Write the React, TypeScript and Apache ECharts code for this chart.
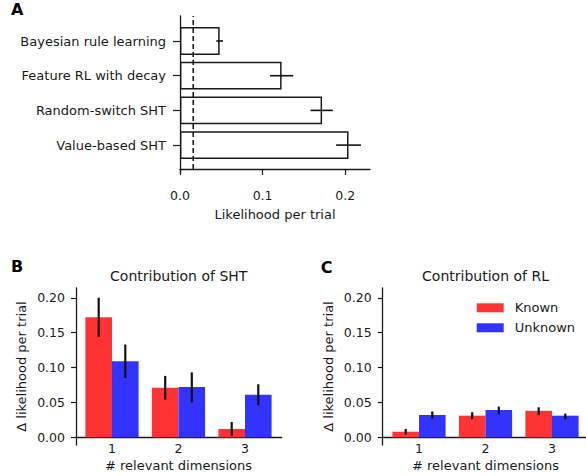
import React, { useEffect, useRef } from 'react';
import * as echarts from 'echarts';

const FONT = 'DejaVu Sans';
const INK = '#1a1a1a';
const RED = '#ff3333';
const BLUE = '#3333ff';

// Panel A
const catsA = ['Bayesian rule learning', 'Feature RL with decay', 'Random-switch SHT', 'Value-based SHT'];
const valsA = [0.048, 0.123, 0.172, 0.204];
const errLoA = [0.044, 0.109, 0.158, 0.189];
const errHiA = [0.052, 0.137, 0.185, 0.219];
const chanceA = 0.016;
const ticksA = [0, 0.1, 0.2];

// Panels B and C
const dims = ['1', '2', '3'];
const ticksBC = [0, 0.05, 0.1, 0.15, 0.2];
const shtKnown = [0.172, 0.071, 0.012];
const shtKnownLo = [0.144, 0.054, 0.002];
const shtKnownHi = [0.2, 0.088, 0.022];
const shtUnknown = [0.109, 0.072, 0.061];
const shtUnknownLo = [0.085, 0.05, 0.046];
const shtUnknownHi = [0.133, 0.093, 0.076];
const rlKnown = [0.008, 0.031, 0.038];
const rlKnownLo = [0.004, 0.026, 0.032];
const rlKnownHi = [0.012, 0.036, 0.043];
const rlUnknown = [0.032, 0.039, 0.031];
const rlUnknownLo = [0.027, 0.033, 0.026];
const rlUnknownHi = [0.037, 0.044, 0.034];

const axisLine = { show: true, onZero: false, lineStyle: { color: INK, width: 1.3 } };

function vErr(axis: number, lo: number[], hi: number[], off: number) {
  return {
    type: 'custom',
    xAxisIndex: axis,
    yAxisIndex: axis,
    z: 5,
    encode: { x: 0, y: [1, 2] },
    data: lo.map((l, i) => [i, l, hi[i]]),
    renderItem: (_p: any, api: any) => {
      const i = api.value(0);
      const p0 = api.coord([i, api.value(1)]);
      const p1 = api.coord([i, api.value(2)]);
      const bw = api.size([1, 0])[0];
      const x = p0[0] + off * bw;
      return {
        type: 'line',
        shape: { x1: x, y1: p0[1], x2: x, y2: p1[1] },
        style: { stroke: '#111', lineWidth: 2.2 },
      };
    },
  };
}

function spineAxes(grid: number) {
  return {
    x: {
      type: 'value', gridIndex: grid, min: 0, max: 1,
      axisLine: { show: true, onZero: true, lineStyle: { color: INK, width: 1.3 } },
      axisLabel: { show: false }, axisTick: { show: false }, splitLine: { show: false },
    },
    y: {
      type: 'value', gridIndex: grid, min: -0.011, max: 0.214,
      axisLine,
      axisTick: { show: true, length: 5, lineStyle: { color: INK, width: 1.2 }, customValues: ticksBC },
      axisLabel: {
        margin: 11, color: INK, fontFamily: FONT, fontSize: 12.5,
        customValues: ticksBC, formatter: (v: number) => v.toFixed(2),
      },
      splitLine: { show: false },
      name: 'Δ likelihood per trial', nameLocation: 'middle', nameGap: 48, nameMoveOverlap: false,
      nameTextStyle: { color: INK, fontFamily: FONT, fontSize: 13 },
    },
  };
}

function barAxes(grid: number) {
  return {
    x: {
      type: 'category', gridIndex: grid, data: dims,
      axisLine: { show: false, onZero: false }, axisTick: { show: false },
      axisLabel: { margin: 5, color: INK, fontFamily: FONT, fontSize: 12.5 },
      name: '# relevant dimensions', nameLocation: 'middle', nameGap: 22, nameMoveOverlap: false,
      nameTextStyle: { color: INK, fontFamily: FONT, fontSize: 13 },
    },
    y: { type: 'value', gridIndex: grid, min: 0, max: 0.214, show: false },
  };
}

function buildOption() {
  const sB = spineAxes(2), bB = barAxes(3), sC = spineAxes(4), bC = barAxes(5);
  const g = (left: number, top: number, width: number, height: number) => ({
    left, top, width, height, containLabel: false, outerBoundsMode: 'none',
  });
  const bar = (name: string, axis: number, data: number[], color: string) => ({
    type: 'bar', name, xAxisIndex: axis, yAxisIndex: axis, data,
    barWidth: 26.6, barGap: '0%', itemStyle: { color },
  });
  return {
    animation: false,
    textStyle: { fontFamily: FONT },
    grid: [
      g(180, 16, 190, 157),
      g(180, 23.65, 190, 138.8),
      g(76, 288, 205.7, 157),
      g(78.75, 288, 199.5, 149.3),
      g(382.7, 288, 205.7, 157),
      g(385.75, 288, 199.5, 149.3),
    ],
    xAxis: [
      {
        type: 'value', gridIndex: 0, min: 0, max: 0.23,
        axisLine: { show: true, onZero: true, lineStyle: { color: INK, width: 1.3 } },
        axisTick: { show: true, length: 6, lineStyle: { color: INK, width: 1.2 }, customValues: ticksA },
        axisLabel: {
          margin: 16, color: INK, fontFamily: FONT, fontSize: 12.5,
          customValues: ticksA, formatter: (v: number) => v.toFixed(1),
        },
        splitLine: { show: false },
        name: 'Likelihood per trial', nameLocation: 'middle', nameGap: 35, nameMoveOverlap: false,
        nameTextStyle: { color: INK, fontFamily: FONT, fontSize: 13 },
      },
      { type: 'value', gridIndex: 1, min: 0, max: 0.23, show: false },
      sB.x, bB.x, sC.x, bC.x,
    ],
    yAxis: [
      {
        type: 'value', gridIndex: 0, min: -0.026, max: 1, axisLine,
        axisTick: { show: false }, axisLabel: { show: false }, splitLine: { show: false },
      },
      {
        type: 'category', gridIndex: 1, data: catsA, inverse: true,
        axisLine: { show: false },
        axisTick: { show: true, alignWithLabel: true, length: 7, lineStyle: { color: INK, width: 1.2 } },
        axisLabel: { margin: 14, color: INK, fontFamily: FONT, fontSize: 13 },
      },
      sB.y, bB.y, sC.y, bC.y,
    ],
    legend: {
      orient: 'vertical', left: 476.7, top: 301.3, padding: 0,
      itemWidth: 27, itemHeight: 9, itemGap: 7, icon: 'rect',
      data: ['Known', 'Unknown'],
      textStyle: { color: INK, fontFamily: FONT, fontSize: 13, padding: [0, 0, 0, 6] },
    },
    graphic: [
      { type: 'text', x: 11, y: 1.3, style: { text: 'A', fill: '#000', fontFamily: FONT, fontSize: 16, fontWeight: 'bold', verticalAlign: 'top' } },
      { type: 'text', x: 11, y: 258.7, style: { text: 'B', fill: '#000', fontFamily: FONT, fontSize: 16, fontWeight: 'bold', verticalAlign: 'top' } },
      { type: 'text', x: 320.7, y: 259.3, style: { text: 'C', fill: '#000', fontFamily: FONT, fontSize: 16, fontWeight: 'bold', verticalAlign: 'top' } },
      { type: 'text', x: 178.7, y: 269, style: { text: 'Contribution of SHT', fill: INK, fontFamily: FONT, fontSize: 14, align: 'center', verticalAlign: 'top' } },
      { type: 'text', x: 485.5, y: 269, style: { text: 'Contribution of RL', fill: INK, fontFamily: FONT, fontSize: 14, align: 'center', verticalAlign: 'top' } },
    ],
    series: [
      {
        type: 'bar', xAxisIndex: 1, yAxisIndex: 1, data: valsA, barWidth: 27.8,
        itemStyle: { color: '#fff', borderColor: INK, borderWidth: 1.5 },
      },
      {
        type: 'custom', xAxisIndex: 1, yAxisIndex: 1, z: 5,
        encode: { x: [0, 1], y: 2 },
        data: catsA.map((_, i) => [errLoA[i], errHiA[i], i]),
        renderItem: (_p: any, api: any) => {
          const p0 = api.coord([api.value(0), api.value(2)]);
          const p1 = api.coord([api.value(1), api.value(2)]);
          return {
            type: 'line',
            shape: { x1: p0[0], y1: p0[1], x2: p1[0], y2: p1[1] },
            style: { stroke: '#111', lineWidth: 1.6 },
          };
        },
      },
      {
        type: 'custom', xAxisIndex: 0, yAxisIndex: 0, z: 6,
        encode: { x: 0, y: 1 },
        data: [[chanceA, 0]],
        renderItem: (_p: any, api: any) => {
          const p0 = api.coord([api.value(0), 0]);
          const p1 = api.coord([api.value(0), 1]);
          return {
            type: 'line',
            shape: { x1: p0[0], y1: p0[1], x2: p1[0], y2: p1[1] },
            style: { stroke: '#111', lineWidth: 1.5, lineDash: [5, 3] },
          };
        },
      },
      bar('Known', 3, shtKnown, RED),
      bar('Unknown', 3, shtUnknown, BLUE),
      vErr(3, shtKnownLo, shtKnownHi, -0.2),
      vErr(3, shtUnknownLo, shtUnknownHi, 0.2),
      bar('Known', 5, rlKnown, RED),
      bar('Unknown', 5, rlUnknown, BLUE),
      vErr(5, rlKnownLo, rlKnownHi, -0.2),
      vErr(5, rlUnknownLo, rlUnknownHi, 0.2),
    ],
  };
}

export default function App() {
  const ref = useRef<HTMLDivElement>(null);
  useEffect(() => {
    const chart = echarts.init(ref.current!, null, { renderer: 'svg' });
    chart.setOption(buildOption() as any);
    return () => chart.dispose();
  }, []);
  return (
    <div
      ref={ref}
      style={{ position: 'absolute', left: 0, top: 0, width: 586, height: 476, background: '#fff' }}
    />
  );
}
